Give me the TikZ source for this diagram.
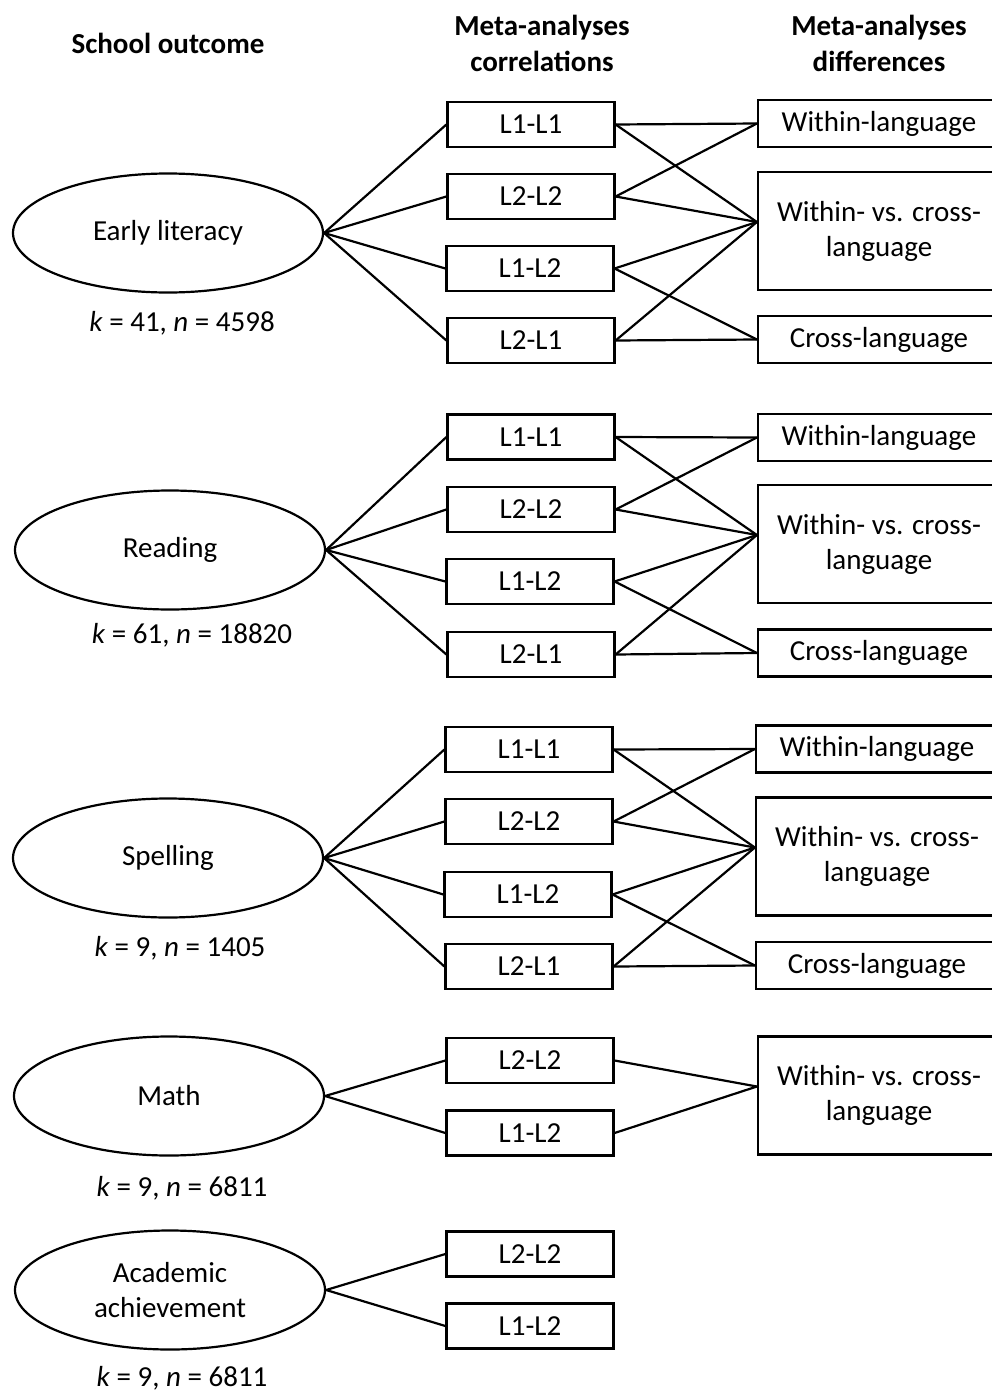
\documentclass[tikz,border=0pt]{standalone}
\usepackage{fontspec}
\setmainfont{Carlito}
\usetikzlibrary{shapes.geometric}
\tikzset{
  every node/.style={font=\fontsize{29}{35}\selectfont},
  lnk/.style={line width=2.2pt, line join=round},
  outcome/.style={ellipse, draw, line width=2.2pt, inner sep=0pt, minimum width=310pt, minimum height=119pt, align=center},
  corr/.style={rectangle, draw, line width=2.2pt, inner sep=0pt, minimum width=167pt, minimum height=45pt},
  diffs/.style={rectangle, draw, line width=2.2pt, inner sep=0pt, minimum width=242pt, minimum height=47pt},
  diffb/.style={rectangle, draw, line width=2.2pt, inner sep=0pt, minimum width=242pt, minimum height=118pt, align=center},
  hdr/.style={font=\fontsize{29}{36}\selectfont\bfseries, align=center},
  stat/.style={inner sep=0pt}
}
\begin{document}
\begin{tikzpicture}[x=1pt,y=-1pt]
\useasboundingbox (0,0) rectangle (991,1392);

% headers
\node[hdr] (h1) at (168,43) {School outcome};
\node[hdr] (h2) at (542,43) {Meta-analyses\\correlations};
\node[hdr] (h3) at (879,43) {Meta-analyses\\differences};

% ---------- group 1: Early literacy
\node[outcome] (o1) at (168,233) {Early literacy};
\node[stat] (s1) at (182,323) {\textit{k} = 41, \textit{n} = 4598};
\node[corr] (a1) at (531,124.5) {L1-L1};
\node[corr] (b1) at (531,196.5) {L2-L2};
\node[corr] (c1) at (530,268.5) {L1-L2};
\node[corr] (d1) at (531,340.5) {L2-L1};
\node[diffs] (w1) at (879,123.5) {Within-language};
\node[diffb] (v1) at (879,231) {Within- vs. cross-\\language};
\node[diffs] (x1) at (879,339.5) {Cross-language};
\coordinate (p1) at ([yshift=9pt]v1.west);
\draw[lnk] (o1.east) -- (a1.west);
\draw[lnk] (o1.east) -- (b1.west);
\draw[lnk] (o1.east) -- (c1.west);
\draw[lnk] (o1.east) -- (d1.west);
\draw[lnk] (a1.east) -- (w1.west);
\draw[lnk] (a1.east) -- (p1);
\draw[lnk] (b1.east) -- (w1.west);
\draw[lnk] (b1.east) -- (p1);
\draw[lnk] (c1.east) -- (p1);
\draw[lnk] (c1.east) -- (x1.west);
\draw[lnk] (d1.east) -- (p1);
\draw[lnk] (d1.east) -- (x1.west);

% ---------- group 2: Reading
\node[outcome] (o2) at (170,550) {Reading};
\node[stat] (s2) at (192,635) {\textit{k} = 61, \textit{n} = 18820};
\node[corr] (a2) at (531,437) {L1-L1};
\node[corr] (b2) at (531,509.5) {L2-L2};
\node[corr] (c2) at (530,581.5) {L1-L2};
\node[corr] (d2) at (531,654.5) {L2-L1};
\node[diffs] (w2) at (879,437.5) {Within-language};
\node[diffb] (v2) at (879,544) {Within- vs. cross-\\language};
\node[diffs] (x2) at (879,653) {Cross-language};
\coordinate (p2) at ([yshift=9pt]v2.west);
\draw[lnk] (o2.east) -- (a2.west);
\draw[lnk] (o2.east) -- (b2.west);
\draw[lnk] (o2.east) -- (c2.west);
\draw[lnk] (o2.east) -- (d2.west);
\draw[lnk] (a2.east) -- (w2.west);
\draw[lnk] (a2.east) -- (p2);
\draw[lnk] (b2.east) -- (w2.west);
\draw[lnk] (b2.east) -- (p2);
\draw[lnk] (c2.east) -- (p2);
\draw[lnk] (c2.east) -- (x2.west);
\draw[lnk] (d2.east) -- (p2);
\draw[lnk] (d2.east) -- (x2.west);

% ---------- group 3: Spelling
\node[outcome] (o3) at (168,858) {Spelling};
\node[stat] (s3) at (180,948) {\textit{k} = 9, \textit{n} = 1405};
\node[corr] (a3) at (529,749.5) {L1-L1};
\node[corr] (b3) at (529,821.5) {L2-L2};
\node[corr] (c3) at (528,894.5) {L1-L2};
\node[corr] (d3) at (529,966.5) {L2-L1};
\node[diffs] (w3) at (877,749) {Within-language};
\node[diffb] (v3) at (877,856.5) {Within- vs. cross-\\language};
\node[diffs] (x3) at (877,965.5) {Cross-language};
\coordinate (p3) at ([yshift=9pt]v3.west);
\draw[lnk] (o3.east) -- (a3.west);
\draw[lnk] (o3.east) -- (b3.west);
\draw[lnk] (o3.east) -- (c3.west);
\draw[lnk] (o3.east) -- (d3.west);
\draw[lnk] (a3.east) -- (w3.west);
\draw[lnk] (a3.east) -- (p3);
\draw[lnk] (b3.east) -- (w3.west);
\draw[lnk] (b3.east) -- (p3);
\draw[lnk] (c3.east) -- (p3);
\draw[lnk] (c3.east) -- (x3.west);
\draw[lnk] (d3.east) -- (p3);
\draw[lnk] (d3.east) -- (x3.west);

% ---------- group 4: Math
\node[outcome] (o4) at (169,1096) {Math};
\node[stat] (s4) at (182,1188) {\textit{k} = 9, \textit{n} = 6811};
\node[corr] (b4) at (530,1060.5) {L2-L2};
\node[corr] (c4) at (530,1133) {L1-L2};
\node[diffb] (v4) at (879,1095.5) {Within- vs. cross-\\language};
\coordinate (p4) at ([yshift=9pt]v4.west);
\draw[lnk] (o4.east) -- (b4.west);
\draw[lnk] (o4.east) -- (c4.west);
\draw[lnk] (b4.east) -- (p4);
\draw[lnk] (c4.east) -- (p4);

% ---------- group 5: Academic achievement
\node[outcome] (o5) at (170,1290) {Academic\\achievement};
\node[stat, anchor=base, text depth=0pt] (s5) at (182,1386) {\textit{k} = 9, \textit{n} = 6811};
\node[corr] (b5) at (530,1254) {L2-L2};
\node[corr] (c5) at (530,1326) {L1-L2};
\draw[lnk] (o5.east) -- (b5.west);
\draw[lnk] (o5.east) -- (c5.west);
\end{tikzpicture}
\end{document}
